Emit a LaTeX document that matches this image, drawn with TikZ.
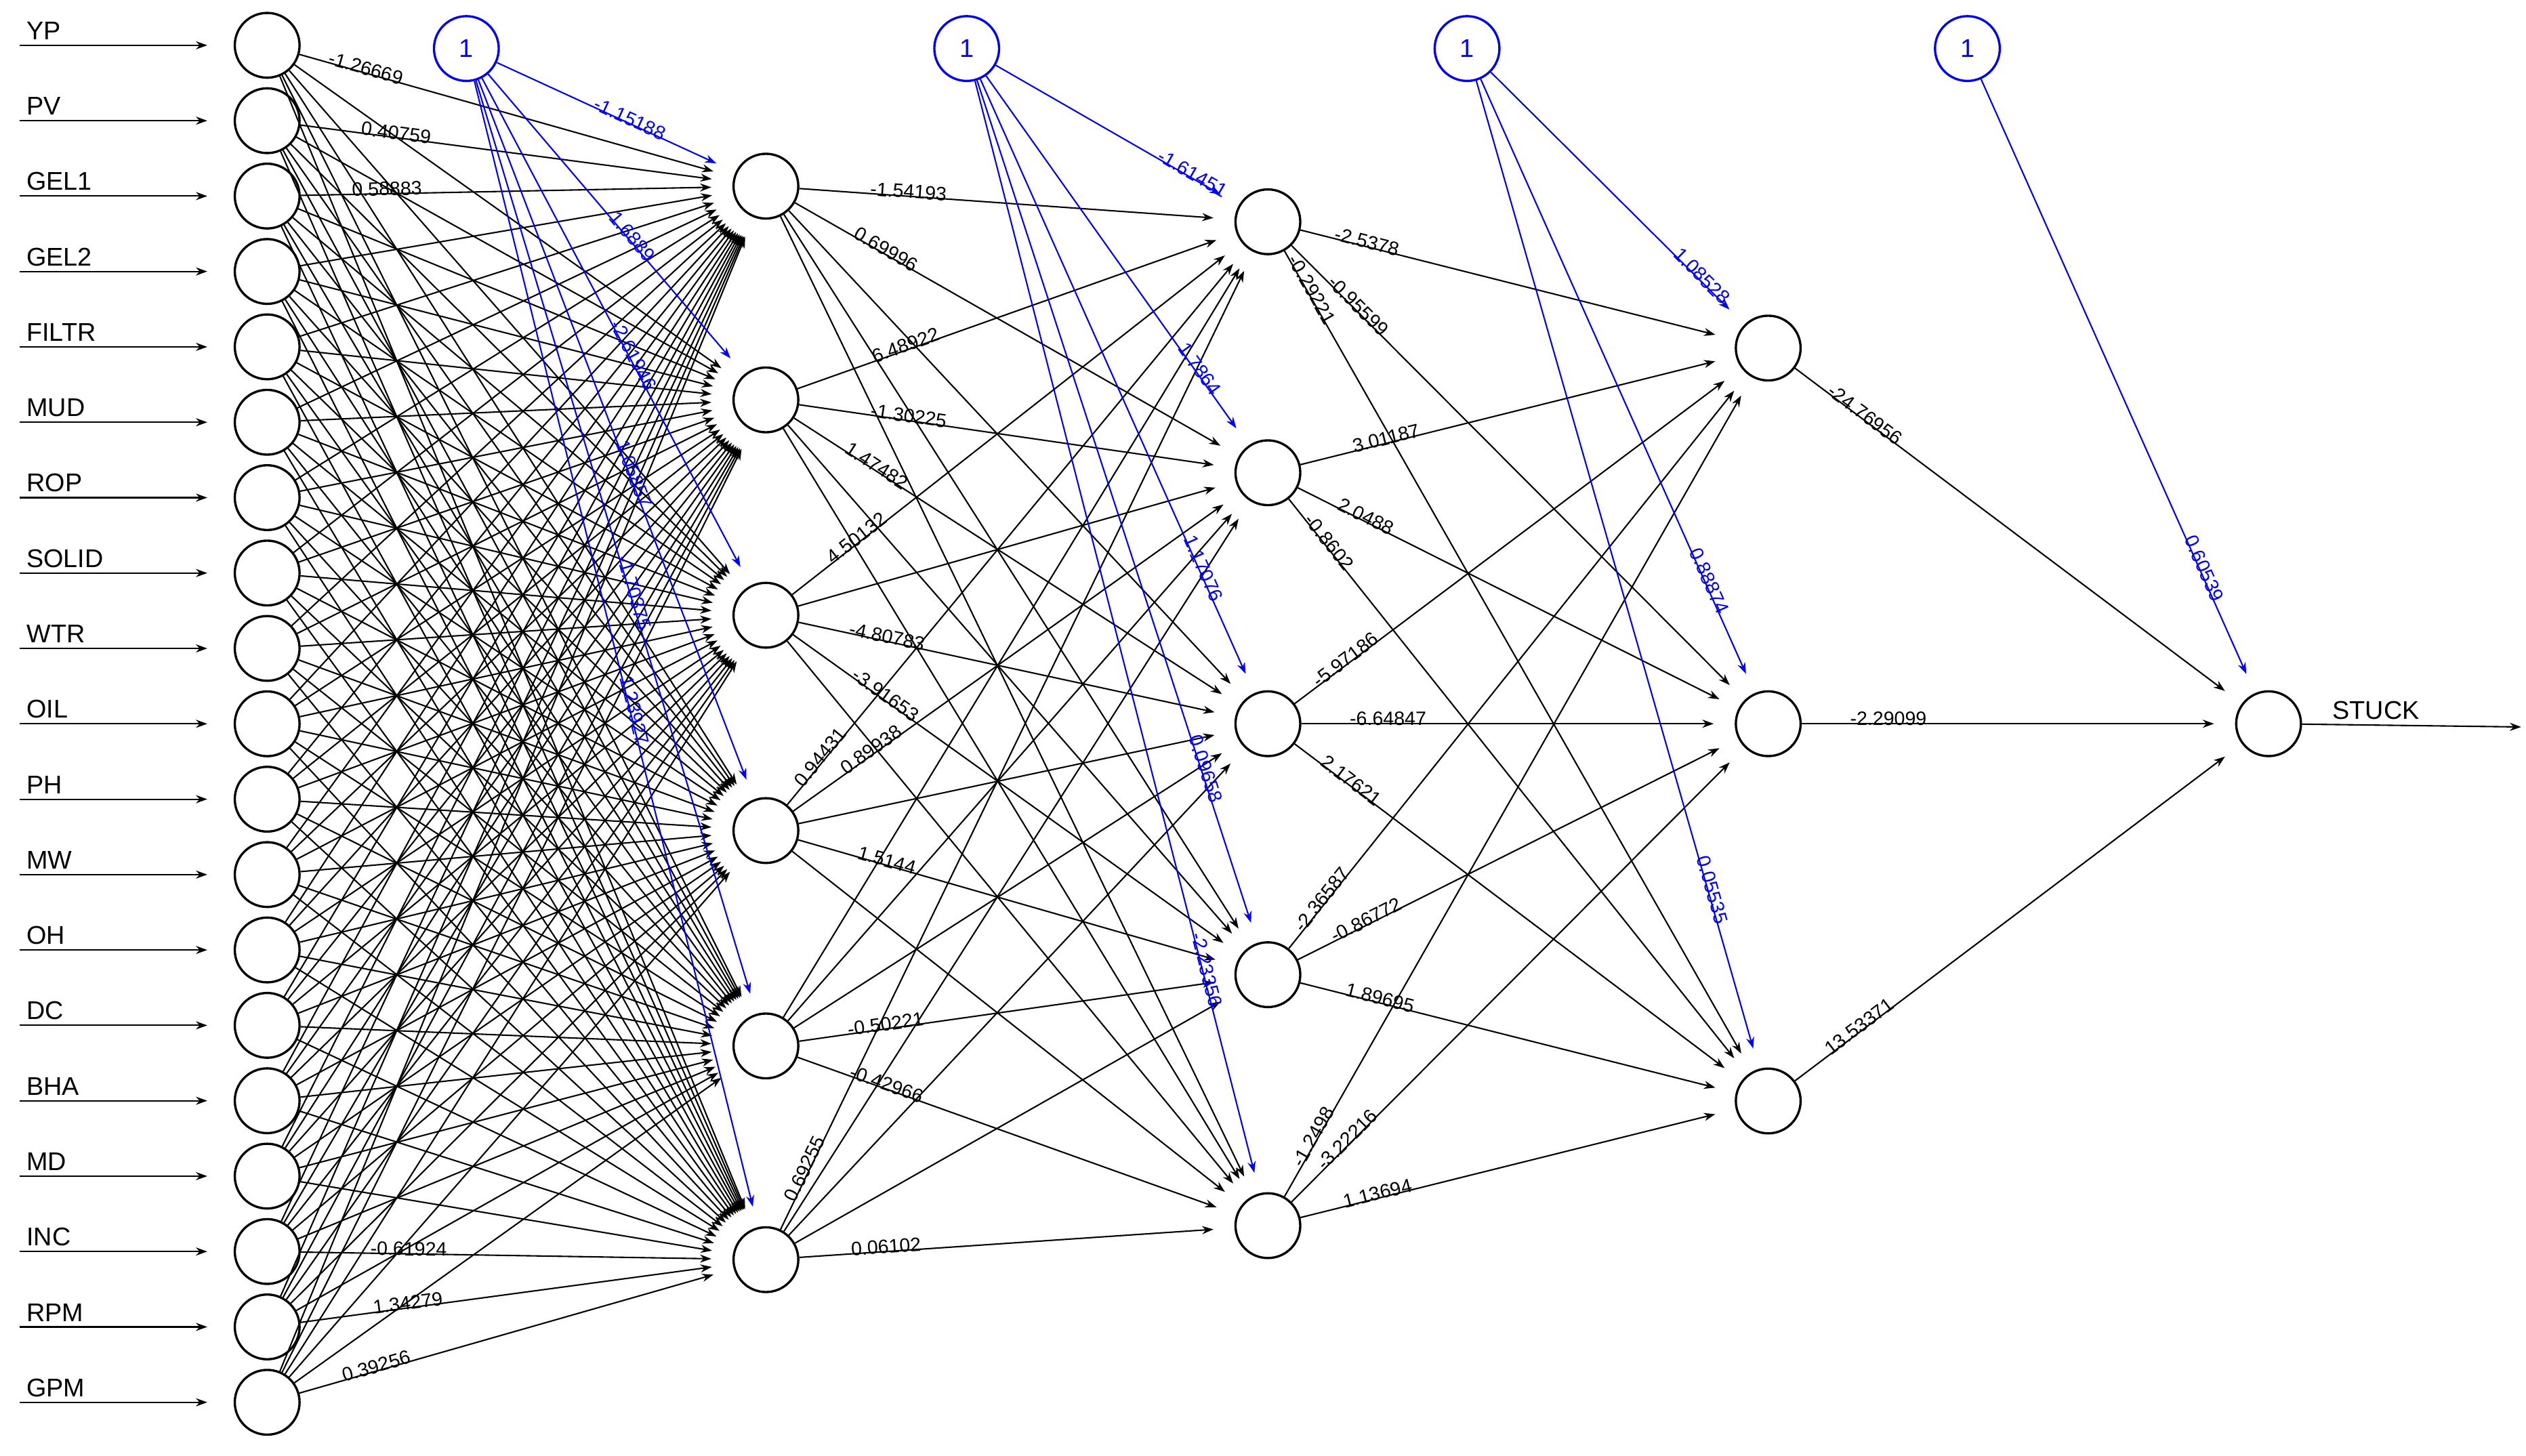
\documentclass[tikz,border=0pt]{standalone}
\usepackage{fontspec}
\setmainfont{Liberation Sans}
\usetikzlibrary{arrows.meta}
\begin{document}
\begin{tikzpicture}[x=1cm,y=-1cm,
 neuron/.style={circle,draw,minimum size=0.4cm,inner sep=0pt,line width=0.4pt},
 bias/.style={neuron,draw=blue,text=blue,font=\fontsize{4.5}{5}\selectfont},
 con/.style={-{Stealth[length=0.7mm,width=0.5mm]},line width=0.25pt,shorten >=1.3mm},
 bcon/.style={con,blue},
 w/.style={font=\fontsize{3.4}{4}\selectfont,sloped,above=-0.3mm,inner sep=0.3pt},
 lab/.style={font=\fontsize{4.5}{5}\selectfont,anchor=south west,inner sep=0.5pt}]
\useasboundingbox (0,0) rectangle (15.6,8.99);
\def\ins{YP,PV,GEL1,GEL2,FILTR,MUD,ROP,SOLID,WTR,OIL,PH,MW,OH,DC,BHA,MD,INC,RPM,GPM}
\foreach \n [count=\i] in \ins {
  \pgfmathsetmacro\yy{0.28+(\i-1)*0.4656}
  \node[neuron] (i\i) at (1.65,\yy) {};
  \coordinate (s\i) at (0.12,\yy);
  \coordinate (e\i) at (1.28,\yy);
  \draw[con,shorten >=0pt] (s\i) -- (e\i);
  \node[lab] (l\i) at (0.14,\yy-0.01) {\n};
}
\foreach \y [count=\i] in {1.15,2.47,3.80,5.13,6.46,7.78} \node[neuron] (h\i) at (4.73,\y) {};
\foreach \y [count=\i] in {1.37,2.92,4.47,6.02,7.57} \node[neuron] (g\i) at (7.83,\y) {};
\foreach \y [count=\i] in {2.15,4.47,6.80} \node[neuron] (k\i) at (10.92,\y) {};
\node[neuron] (o) at (14.01,4.47) {};
\node[lab] (ol) at (14.38,4.47) {STUCK};
\coordinate (oe) at (15.57,4.49);
\draw[con,shorten >=0pt] (o) -- (oe);
\node[bias] (b1) at (2.88,0.30) {1};
\node[bias] (b2) at (5.97,0.30) {1};
\node[bias] (b3) at (9.06,0.30) {1};
\node[bias] (b4) at (12.15,0.30) {1};
% layer 1
\foreach \i in {1,...,19} \foreach \j in {1,...,6} \draw[con] (i\i) -- (h\j);
\path (i1) -- (h1) node[w,pos=0.15] {-1.26669};
\path (i19) -- (h6) node[w,pos=0.18] {0.39256};
\path (i18) -- (h6) node[w,pos=0.25] {1.34279};
\path (i3) -- (h1) node[w,pos=0.2] {0.58883};
\path (i2) -- (h1) node[w,pos=0.22] {0.40759};
\path (i17) -- (h6) node[w,pos=0.25] {-0.61924};
% layer 2
\foreach \i in {1,...,6} \foreach \j in {1,...,5} \draw[con] (h\i) -- (g\j);
\path (h1) -- (g1) node[w,pos=0.25] {-1.54193};
\path (h1) -- (g2) node[w,pos=0.2] {0.69996};
\path (h2) -- (g1) node[w,pos=0.25] {6.48922};
\path (h2) -- (g2) node[w,pos=0.25] {-1.30225};
\path (h2) -- (g3) node[w,pos=0.18] {1.47482};
\path (h3) -- (g1) node[w,pos=0.15] {4.50132};
\path (h3) -- (g3) node[w,pos=0.2] {-4.80783};
\path (h3) -- (g4) node[w,pos=0.2] {-3.91653};
\path (h4) -- (g1) node[w,pos=0.08] {0.94431};
\path (h4) -- (g2) node[w,pos=0.18] {0.89938};
\path (h4) -- (g4) node[w,pos=0.2] {1.5144};
\path (h5) -- (g4) node[w,pos=0.2] {-0.50221};
\path (h5) -- (g5) node[w,pos=0.2] {-0.42966};
\path (h6) -- (g5) node[w,pos=0.2] {0.06102};
\path (h6) -- (g1) node[w,pos=0.06] {0.69255};
% layer 3
\foreach \i in {1,...,5} \foreach \j in {1,2,3} \draw[con] (g\i) -- (k\j);
\path (g1) -- (k1) node[w,pos=0.15] {-2.5378};
\path (g1) -- (k2) node[w,pos=0.14] {-0.95599};
\path (g1) -- (k3) node[w,pos=0.05] {-0.29221};
\path (g2) -- (k1) node[w,pos=0.2] {3.01187};
\path (g2) -- (k2) node[w,pos=0.15] {2.0488};
\path (g2) -- (k3) node[w,pos=0.08] {-0.8602};
\path (g3) -- (k1) node[w,pos=0.12] {-5.97186};
\path (g3) -- (k2) node[w,pos=0.2] {-6.64847};
\path (g3) -- (k3) node[w,pos=0.12] {2.17621};
\path (g4) -- (k1) node[w,pos=0.08] {-2.36587};
\path (g4) -- (k2) node[w,pos=0.16] {-0.86772};
\path (g4) -- (k3) node[w,pos=0.18] {1.89695};
\path (g5) -- (k1) node[w,pos=0.07] {-1.2498};
\path (g5) -- (k2) node[w,pos=0.13] {-3.22216};
\path (g5) -- (k3) node[w,pos=0.18] {1.13694};
% output
\foreach \j in {1,2,3} \draw[con] (k\j) -- (o);
\path (k1) -- (o) node[w,pos=0.15] {-24.76956};
\path (k2) -- (o) node[w,pos=0.2] {-2.29099};
\path (k3) -- (o) node[w,pos=0.15] {13.53371};
% biases
\foreach \j [count=\c] in {-1.15188,1.6889,-2.61946,1.05857,-1.70375,1.23927}
  \draw[bcon] (b1) -- (h\c) node[w,pos=0.55,text=blue] {\j};
\foreach \j [count=\c] in {-1.61451,1.7864,1.17076,0.09658,-2.23356}
  \draw[bcon] (b2) -- (g\c) node[w,pos=0.8,text=blue] {\j};
\foreach \j [count=\c] in {1.08528,0.88874,0.05535}
  \draw[bcon] (b3) -- (k\c) node[w,pos=0.82,text=blue] {\j};
\draw[bcon] (b4) -- (o) node[w,pos=0.8,text=blue] {0.60539};
\end{tikzpicture}
\end{document}
